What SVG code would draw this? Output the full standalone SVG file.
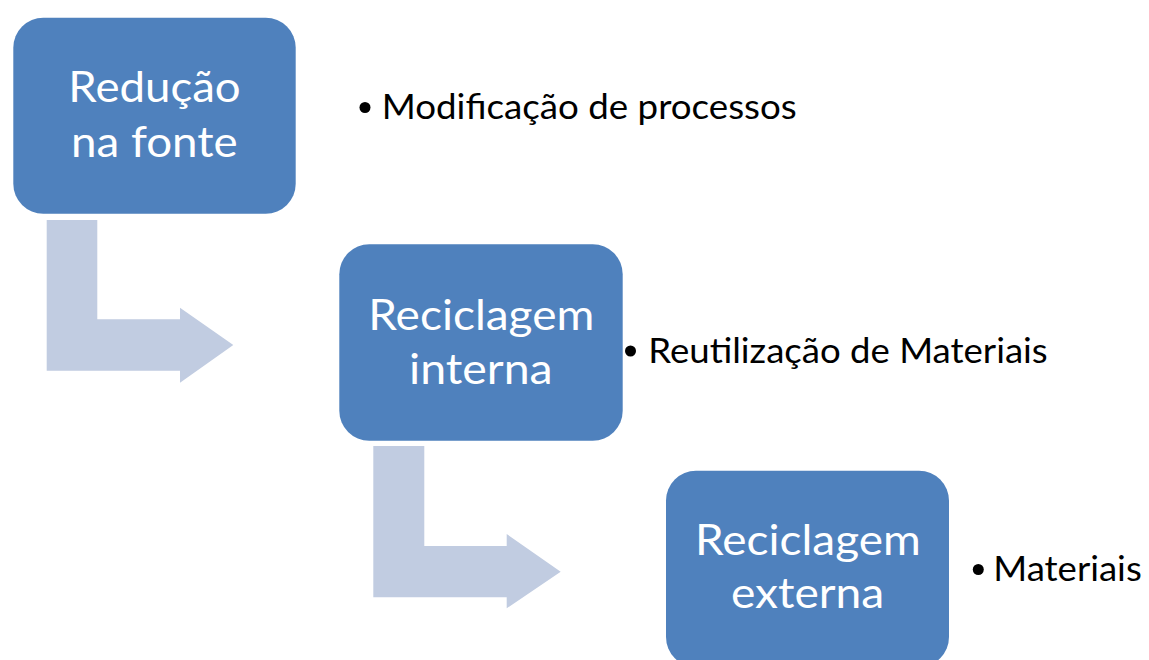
<svg xmlns="http://www.w3.org/2000/svg" width="1149" height="660" viewBox="0 0 1149 660">
<style>
.box{fill:#4F81BD}
.arr{fill:#C1CCE1}
.bt{font-family:Lato,"Open Sans","Liberation Sans",sans-serif;font-size:42px;fill:#FFFFFF}
.lt{font-family:Lato,"Open Sans","Liberation Sans",sans-serif;font-size:35px;fill:#000000}
</style>
<rect width="1149" height="660" fill="#FFFFFF"/>
<g id="connectors">
<path class="arr" d="M46.7,220 H97.3 V319.3 H180 V307.7 L233.3,345 L180,382.7 V370.7 H46.7 Z"/>
<path class="arr" d="M373.3,446 H424.3 V546 H506.7 V534 L560.7,571.7 L506.7,608.3 V597.3 H373.3 Z"/>
</g>
<g id="node-reducao">
<rect class="box" x="13.3" y="17.7" width="282.4" height="196" rx="30"/>
<text class="bt"><tspan x="68.3" y="101.7" textLength="172.4" lengthAdjust="spacingAndGlyphs">Redução</tspan><tspan x="71" y="157" textLength="166.7" lengthAdjust="spacingAndGlyphs">na fonte</tspan></text>
</g>
<g id="node-interna">
<rect class="box" x="339.3" y="244.3" width="283.4" height="196.4" rx="30"/>
<text class="bt"><tspan x="368.3" y="329.5" textLength="226" lengthAdjust="spacingAndGlyphs">Reciclagem</tspan><tspan x="409" y="384.3" textLength="143.7" lengthAdjust="spacingAndGlyphs">interna</tspan></text>
</g>
<g id="node-externa">
<rect class="box" x="666" y="470.7" width="283" height="196.4" rx="30"/>
<text class="bt"><tspan x="695" y="555" textLength="225.7" lengthAdjust="spacingAndGlyphs">Reciclagem</tspan><tspan x="731" y="608.3" textLength="153.3" lengthAdjust="spacingAndGlyphs">externa</tspan></text>
</g>
<g id="bullet-1">
<circle cx="365" cy="107.5" r="5.5" fill="#000000"/>
<text class="lt" x="381.7" y="119.3" textLength="415" lengthAdjust="spacingAndGlyphs">Modificação de processos</text>
</g>
<g id="bullet-2">
<circle cx="630.5" cy="351" r="5.5" fill="#000000"/>
<text class="lt" x="648.3" y="363.3" textLength="399.4" lengthAdjust="spacingAndGlyphs">Reutilização de Materiais</text>
</g>
<g id="bullet-3">
<circle cx="978.3" cy="569.5" r="5.5" fill="#000000"/>
<text class="lt" x="993.3" y="580.7" textLength="148.4" lengthAdjust="spacingAndGlyphs">Materiais</text>
</g>
</svg>
